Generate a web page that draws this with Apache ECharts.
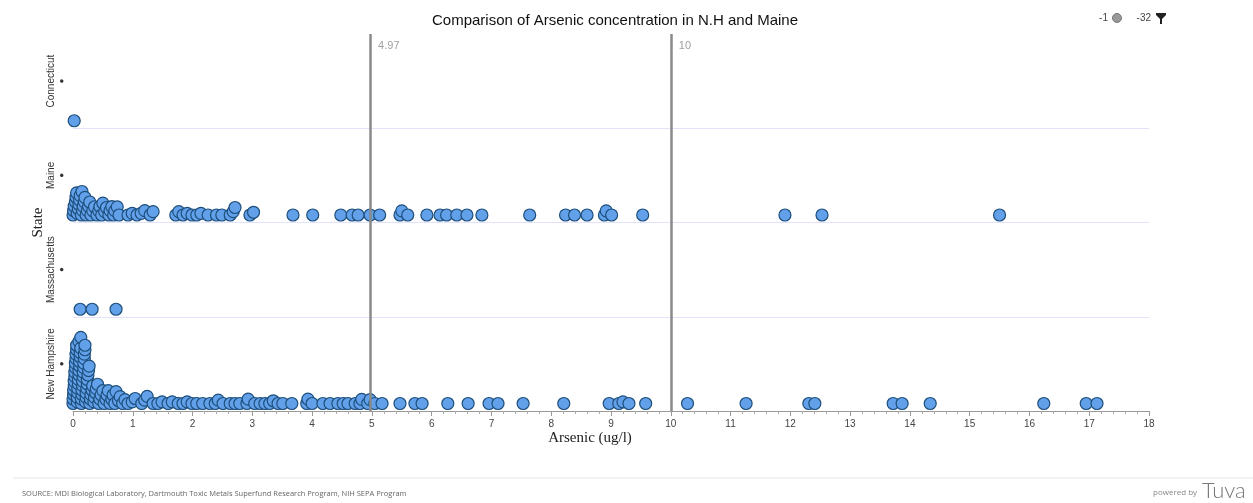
<!DOCTYPE html>
<html><head><meta charset="utf-8">
<script src="https://cdn.jsdelivr.net/npm/echarts@6/dist/echarts.min.js"></script>
<style>html,body{margin:0;padding:0;background:#fff}#c{width:1253px;height:503px}</style>
</head><body><div id="c"></div>
<script>
// ---- data ----
const categories = ['New Hampshire', 'Massachusetts', 'Maine', 'Connecticut']; // bottom -> top
const connecticutValues = [0.02];
const massachusettsValues = [0.12, 0.32, 0.72];
const maineValues = [
  0.00, 0.01, 0.02, 0.04, 0.05, 0.06, 0.07, 0.09, 0.10, 0.11, 0.12, 0.14, 0.15, 0.16, 0.17,
  0.19, 0.20, 0.22, 0.24, 0.26, 0.28,
  0.30, 0.33, 0.36, 0.40, 0.43, 0.45, 0.48, 0.50, 0.53, 0.56, 0.60, 0.62, 0.65, 0.68, 0.70,
  0.74, 0.77,
  0.92, 0.99, 1.07, 1.14, 1.20, 1.29, 1.34, 1.72, 1.77, 1.84, 1.91, 1.99, 2.07, 2.14, 2.26,
  2.40, 2.49, 2.63, 2.68, 2.71, 2.96, 3.02, 3.68, 4.01, 4.48, 4.67, 4.77, 4.97, 5.13,
  5.47, 5.50, 5.60, 5.92, 6.14, 6.25, 6.42, 6.59, 6.84, 7.64, 8.24, 8.39, 8.60, 8.89, 8.92,
  9.01, 9.53, 11.91, 12.53, 15.50
];
const newHampshireValues = [
  0.00, 0.00, 0.01, 0.01, 0.02, 0.02, 0.03, 0.03, 0.04, 0.04, 0.05, 0.05, 0.06, 0.06, 0.07,
  0.07, 0.08, 0.08, 0.09, 0.09, 0.10, 0.10, 0.10, 0.11, 0.11, 0.12, 0.12, 0.13, 0.13, 0.14,
  0.14, 0.15, 0.15, 0.16, 0.16, 0.17, 0.17, 0.18, 0.18, 0.19, 0.19, 0.20, 0.20, 0.21, 0.22,
  0.22, 0.23, 0.24, 0.24, 0.25, 0.26, 0.27, 0.28, 0.29, 0.30, 0.32, 0.33,
  0.35, 0.36, 0.38, 0.39, 0.41, 0.43, 0.45, 0.47, 0.50, 0.52, 0.55, 0.57, 0.59, 0.62, 0.65,
  0.67, 0.70, 0.72, 0.76, 0.79, 0.83, 0.87, 0.92,
  0.99, 1.04, 1.15, 1.20, 1.24, 1.34, 1.42, 1.49, 1.59, 1.66, 1.76, 1.84, 1.91, 1.99,
  2.07, 2.17, 2.29, 2.38, 2.43, 2.51, 2.63, 2.71, 2.79, 2.91, 2.93, 3.04, 3.13, 3.21, 3.29,
  3.35, 3.43, 3.51, 3.66, 3.91, 3.93, 4.00, 4.18, 4.30, 4.43, 4.52, 4.60, 4.72, 4.80, 4.83,
  4.93, 4.97, 5.05, 5.17, 5.47, 5.72, 5.84, 6.27, 6.61, 6.96, 7.11, 7.53, 8.21, 8.97, 9.13,
  9.20, 9.30, 9.58, 10.28, 11.26, 12.31, 12.41, 13.72, 13.87, 14.34, 16.24, 16.95, 17.13
];
const referenceValues = [4.97, 10];
const referenceLabels = ['4.97', '10'];
const xMin = 0, xMax = 18, xInterval = 1;

// ---- layout ----
const W = 1253, H = 503;
const GRID = { left: 73, right: 104, top: 34, bottom: 92 };
const unitPx = (W - GRID.left - GRID.right) / (xMax - xMin);
const bandPx = (H - GRID.top - GRID.bottom) / categories.length;
const BASE = 7.5, D = 4.5;

function swarm(vals, bandIndex) {
  const order = vals.map((v, i) => ({ v, i })).sort((a, b) => a.v - b.v);
  const placed = [], out = [];
  for (const p of order) {
    const x = p.v * unitPx;
    const near = placed.filter(q => Math.abs(q.x - x) < D);
    const cands = [0];
    near.forEach(q => cands.push(q.y + Math.sqrt(D * D - (q.x - x) ** 2)));
    cands.sort((a, b) => a - b);
    const y = cands.find(c => near.every(q => (q.x - x) ** 2 + (q.y - c) ** 2 >= D * D - 1e-6));
    placed.push({ x, y });
    out.push([p.v, bandIndex + (BASE + y) / bandPx]);
  }
  return out;
}

const pointStyle = {
  type: 'scatter', xAxisIndex: 0, yAxisIndex: 0, symbol: 'circle', symbolSize: 12,
  itemStyle: { color: '#62a0ea', borderColor: '#1d4f7c', borderWidth: 1.2, opacity: 1 },
  z: 3, silent: true
};
const stateSeries = [
  ['New Hampshire', newHampshireValues], ['Massachusetts', massachusettsValues],
  ['Maine', maineValues], ['Connecticut', connecticutValues]
].map(([name, vals]) => Object.assign({}, pointStyle, { name, data: swarm(vals, categories.indexOf(name)) }));

const chart = echarts.init(document.getElementById('c'), null, { renderer: 'canvas' });
chart.setOption({
  animation: false,
  backgroundColor: '#fff',
  title: {
    text: 'Comparison of Arsenic concentration in N.H and Maine',
    left: 427, top: 8,
    textStyle: { fontFamily: 'Liberation Sans', fontSize: 15, fontWeight: 'normal', color: '#111' }
  },
  grid: GRID,
  xAxis: {
    type: 'value', min: xMin, max: xMax, interval: xInterval,
    name: 'Arsenic (ug/l)', nameLocation: 'middle', nameGap: 20, nameMoveOverlap: false,
    nameTextStyle: { fontFamily: 'Liberation Serif', fontSize: 15, color: '#222', padding: [0, 42, 0, 0] },
    axisLine: { show: true, lineStyle: { color: '#999', width: 1 } },
    axisTick: { show: true, length: 5, lineStyle: { color: '#999' } },
    minorTick: { show: true, splitNumber: 5, length: 3, lineStyle: { color: '#aaa' } },
    splitLine: { show: false },
    axisLabel: { fontFamily: 'Liberation Sans', fontSize: 10, color: '#444', margin: 8 }
  },
  yAxis: [
    {
      type: 'value', min: 0, max: categories.length, show: true,
      name: 'State', nameLocation: 'middle', nameGap: 27,
      nameTextStyle: { fontFamily: 'Liberation Serif', fontSize: 15, color: '#222' },
      axisLine: { show: false }, axisTick: { show: false }, axisLabel: { show: false }, splitLine: { show: false }
    },
    {
      type: 'category', data: categories, position: 'left',
      axisLine: { show: false }, axisTick: { show: false }, splitLine: { show: false },
      axisLabel: {
        rotate: 90, margin: 6, interval: 0,
        formatter: v => '{n|' + v + '}\n{d|●}',
        rich: {
          n: { fontFamily: 'Liberation Sans', fontSize: 10, color: '#333', lineHeight: 12 },
          d: { fontSize: 8, color: '#333', lineHeight: 10 }
        }
      }
    }
  ],
  graphic: [
    { type: 'text', right: W - 1108, top: 13, style: { text: '-1', fontFamily: 'Liberation Sans', fontSize: 10, fill: '#444' } },
    { type: 'circle', shape: { cx: 1117, cy: 18, r: 4.5 }, style: { fill: '#999', stroke: '#777', lineWidth: 1 } },
    { type: 'text', right: W - 1151, top: 13, style: { text: '-32', fontFamily: 'Liberation Sans', fontSize: 10, fill: '#444' } },
    { type: 'polygon', shape: { points: [[1156, 13], [1166, 13], [1166, 15], [1162, 19], [1162, 24], [1160, 24], [1160, 19], [1156, 15]] }, style: { fill: '#222' } },
    { type: 'line', shape: { x1: 13, y1: 478, x2: W, y2: 478 }, style: { stroke: '#e6e6e6', lineWidth: 1 } },
    { type: 'text', left: 22, top: 490, style: { text: 'SOURCE: MDI Biological Laboratory, Dartmouth Toxic Metals Superfund Research Program, NIH SEPA Program', fontFamily: 'Open Sans', fontSize: 7.5, fill: '#666' } },
    { type: 'text', left: 1153, top: 489, style: { text: 'powered by', fontFamily: 'Open Sans', fontSize: 8, fill: '#888' } },
    { type: 'text', left: 1202, top: 480, style: { text: 'Tuva', fontFamily: 'Lato', fontWeight: 300, fontSize: 22, fill: '#777' } }
  ],
  series: [
    {
      type: 'scatter', name: 'bands', data: [], silent: true, z: 1,
      markLine: {
        silent: true, symbol: ['none', 'none'], label: { show: false },
        lineStyle: { color: '#e2e2fa', width: 1, type: 'solid' },
        data: [1, 2, 3].map(v => ({ yAxis: v }))
      }
    },
    ...stateSeries,
    {
      type: 'scatter', name: 'refs', silent: true, z: 5, symbolSize: 0,
      data: referenceValues.map((v, i) => ({
        value: [v, categories.length],
        label: { show: true, formatter: referenceLabels[i] }
      })),
      label: { position: 'right', distance: 8, offset: [0, 12], color: '#888', fontFamily: 'Liberation Sans', fontSize: 11 },
      markLine: {
        silent: true, symbol: ['none', 'none'], label: { show: false },
        lineStyle: { color: '#8a8a8a', width: 2.5, type: 'solid' },
        data: referenceValues.map(v => ({ xAxis: v }))
      }
    }
  ]
});
</script></body></html>
